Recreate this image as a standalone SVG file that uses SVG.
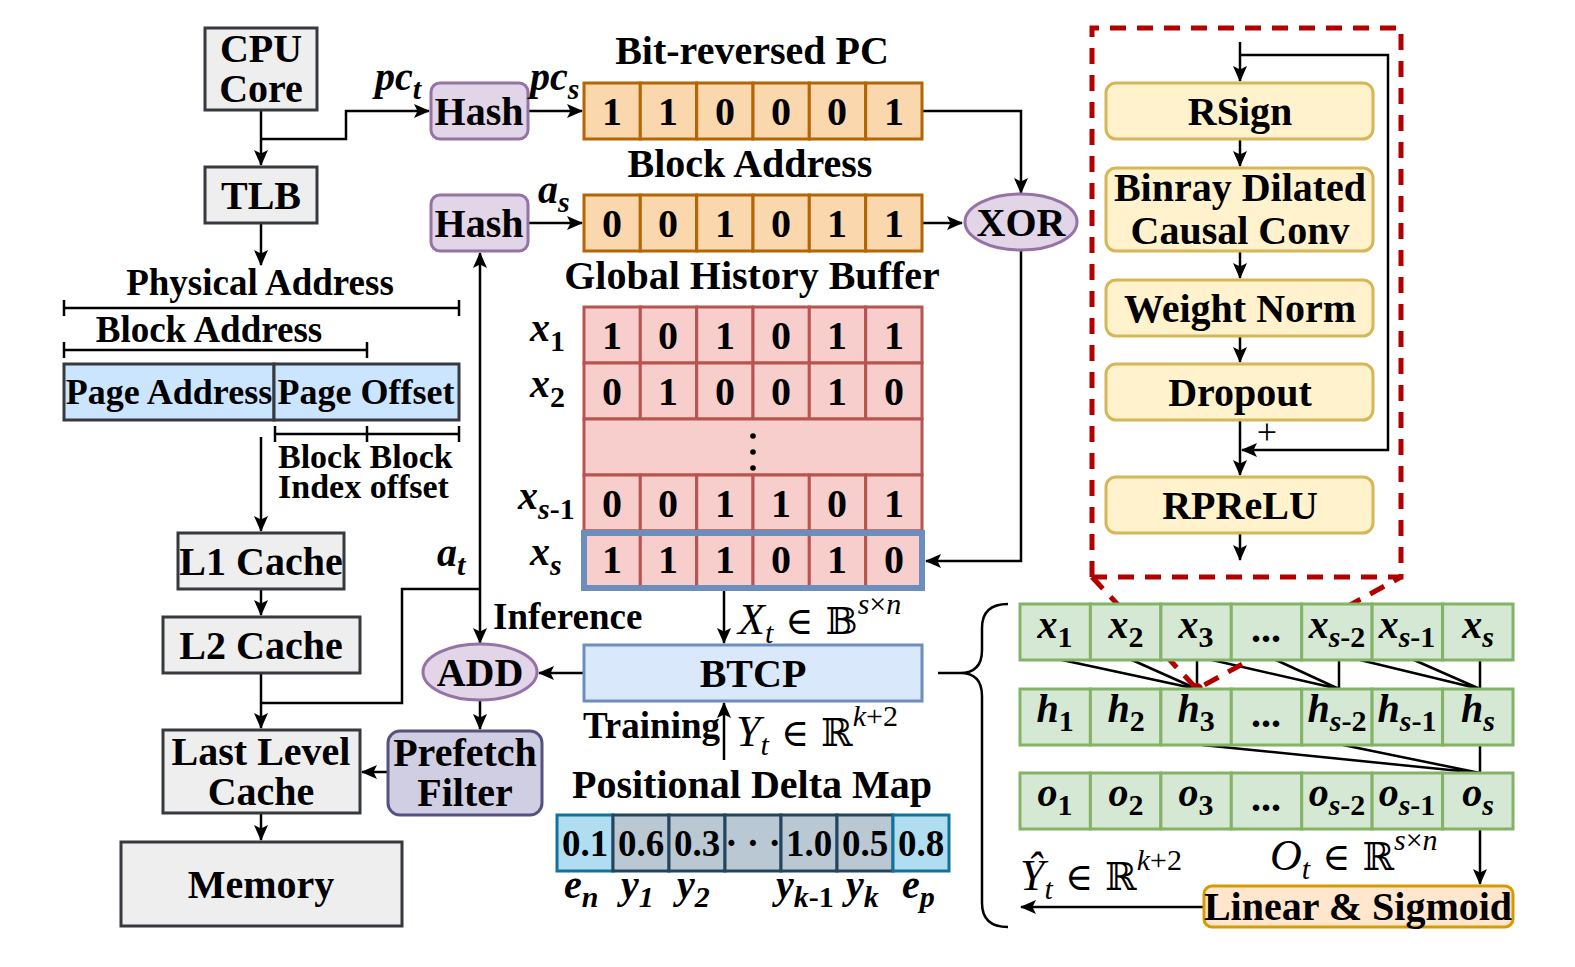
<svg xmlns="http://www.w3.org/2000/svg" width="1575" height="967" viewBox="0 0 1575 967">
<style>
text{font-family:"Liberation Serif","Times New Roman",serif;fill:#000}
.b{font-weight:bold;font-size:40px}
.s37{font-size:37px}
.c{text-anchor:middle;dominant-baseline:central}
.mi{font-style:italic;font-weight:bold;font-size:40px}
.lx{font-style:italic;font-size:44px}
.sub{font-size:30px}
.up{font-style:normal}
.bb{font-style:normal;font-family:"DejaVu Serif","DejaVu Sans",serif;font-size:38px}
.ln{fill:none;stroke:#000;stroke-width:2.5}
.ar{fill:none;stroke:#000;stroke-width:2.5;marker-end:url(#ah)}
.gray{fill:#eeeeee;stroke:#36393d;stroke-width:3}
.blu{fill:#cce5ff;stroke:#36393d;stroke-width:3}
.pur{fill:#e1d5e7;stroke:#9673a6;stroke-width:3}
.org{fill:#fad7ac;stroke:#b46504;stroke-width:3}
.red{fill:#f8cecc;stroke:#b85450;stroke-width:3}
.yel{fill:#fff2cc;stroke:#d6b656;stroke-width:3}
.grn{fill:#d5e8d4;stroke:#82b366;stroke-width:3}
.dl1{fill:#b1ddf0;stroke:#10739e;stroke-width:3}
.dl2{fill:#bac8d3;stroke:#23445d;stroke-width:3}
.dash{fill:none;stroke:#b20000;stroke-width:5;stroke-dasharray:16 11}
</style>
<defs>
<marker id="ah" viewBox="0 0 16 14" refX="15" refY="7" markerWidth="16" markerHeight="14" markerUnits="userSpaceOnUse" orient="auto">
<path d="M0,0 L16,7 L0,14 L3.5,7 z" fill="#000"/>
</marker>
</defs>

<!-- connectors -->
<g id="connectors">
<path class="ar" d="M261,110 V165"/>
<path class="ar" d="M261,139 H346 V111 H429"/>
<path class="ar" d="M528,111 H582"/>
<path class="ar" d="M528,223 H582"/>
<path class="ar" d="M922,111 H1021 V193"/>
<path class="ar" d="M922,223 H962"/>
<path class="ar" d="M1021,250 V561 H926"/>
<path class="ar" d="M261,223 V265"/>
<path class="ar" d="M261,437 V531"/>
<path class="ar" d="M261,589 V615"/>
<path class="ar" d="M261,673 V728"/>
<path class="ln" d="M261,703 H402 V589 H480"/>
<path class="ar" d="M480,589 V253"/>
<path class="ar" d="M480,589 V643"/>
<path class="ar" d="M584,673 H539"/>
<path class="ar" d="M480,700 V729"/>
<path class="ar" d="M388,772 H362"/>
<path class="ar" d="M261,813 V840"/>
<path class="ar" d="M724,589 V643"/>
<path class="ar" d="M724,760 V703"/>
<path class="ln" d="M1008,604 Q982,604 982,628 V650 Q982,673 960,673 H938 M960,673 Q982,673 982,696 V903 Q982,927 1008,927"/>
<path class="ar" d="M1240,42 V81"/>
<path class="ar" d="M1240,55 H1388 V450 H1242"/>
<path class="ar" d="M1240,139 V166"/>
<path class="ar" d="M1240,251 V278"/>
<path class="ar" d="M1240,336 V362"/>
<path class="ar" d="M1240,420 V475"/>
<path class="ar" d="M1240,533 V560"/>
<path class="ln" d="M1062,660 L1197,689 M1132,660 L1197,689 M1197,660 V689"/>
<path class="ln" d="M1212,660 L1339,689 M1276,660 L1339,689 M1339,660 V689"/>
<path class="ln" d="M1360,660 L1480,689 M1414,660 L1480,689 M1480,660 V689"/>
<path class="ln" d="M1202,745 L1480,773 M1343,745 L1480,773 M1480,745 V773"/>
<path class="ar" d="M1480,829 V884"/>
<path class="ar" d="M1204,907 H1021"/>
</g>

<!-- left column -->
<g id="cpu"><rect class="gray" x="205" y="28" width="112" height="82"/>
<text class="b c" x="261" y="48">CPU</text><text class="b c" x="261" y="88">Core</text></g>
<g id="tlb"><rect class="gray" x="205" y="167" width="112" height="56"/><text class="b c" x="261" y="195">TLB</text></g>
<g id="phys">
<text class="b s37" x="260" y="295" text-anchor="middle">Physical Address</text>
<path class="ln" d="M64,308 H459 M64,300 V316 M459,300 V316"/>
<text class="b s37" x="209" y="342" text-anchor="middle">Block Address</text>
<path class="ln" d="M64,350 H367 M64,342 V358 M367,342 V358"/>
<rect class="blu" x="64" y="364" width="210" height="56"/><text class="b c" x="169" y="392" style="font-size:36px">Page Address</text>
<rect class="blu" x="274" y="364" width="185" height="56"/><text class="b c" x="366" y="392" style="font-size:36px">Page Offset</text>
<path class="ln" d="M275,434 H459 M275,426 V442 M367,426 V442 M459,426 V442"/>
<text class="b" x="278" y="468" style="font-size:34px">Block Block</text>
<text class="b" x="278" y="498" style="font-size:34px">Index offset</text>
</g>
<g id="l1"><rect class="gray" x="178" y="533" width="166" height="56"/><text class="b c" x="261" y="561">L1 Cache</text></g>
<g id="l2"><rect class="gray" x="163" y="617" width="197" height="56"/><text class="b c" x="261" y="645">L2 Cache</text></g>
<g id="llc"><rect class="gray" x="163" y="730" width="197" height="83"/>
<text class="b c" x="261" y="751">Last Level</text><text class="b c" x="261" y="791">Cache</text></g>
<g id="memory"><rect class="gray" x="121" y="842" width="281" height="84"/><text class="b c" x="261" y="884">Memory</text></g>

<!-- hashes and arrays -->
<g id="hash1"><rect class="pur" x="431" y="83" width="97" height="56" rx="9"/><text class="b c" x="479" y="111">Hash</text></g>
<g id="hash2"><rect class="pur" x="431" y="195" width="97" height="56" rx="9"/><text class="b c" x="479" y="223">Hash</text></g>
<g id="labels-math">
<text class="mi" x="375" y="90">pc<tspan class="sub" dy="9">t</tspan></text>
<text class="mi" x="530" y="90">pc<tspan class="sub" dy="9">s</tspan></text>
<text class="mi" x="538" y="203">a<tspan class="sub" dy="9">s</tspan></text>
<text class="mi" x="437" y="566">a<tspan class="sub" dy="9">t</tspan></text>
</g>
<g id="bitrev">
<text class="b" x="752" y="64" text-anchor="middle">Bit-reversed PC</text>
<rect class="org" x="584" y="83" width="56.3" height="56"/><rect class="org" x="640.3" y="83" width="56.3" height="56"/><rect class="org" x="696.7" y="83" width="56.3" height="56"/><rect class="org" x="753" y="83" width="56.3" height="56"/><rect class="org" x="809.3" y="83" width="56.3" height="56"/><rect class="org" x="865.7" y="83" width="56.3" height="56"/>
<text class="b c" x="612" y="111">1</text><text class="b c" x="668" y="111">1</text><text class="b c" x="725" y="111">0</text><text class="b c" x="781" y="111">0</text><text class="b c" x="837" y="111">0</text><text class="b c" x="894" y="111">1</text>
</g>
<g id="blockaddr">
<text class="b" x="750" y="177" text-anchor="middle">Block Address</text>
<rect class="org" x="584" y="195" width="56.3" height="56"/><rect class="org" x="640.3" y="195" width="56.3" height="56"/><rect class="org" x="696.7" y="195" width="56.3" height="56"/><rect class="org" x="753" y="195" width="56.3" height="56"/><rect class="org" x="809.3" y="195" width="56.3" height="56"/><rect class="org" x="865.7" y="195" width="56.3" height="56"/>
<text class="b c" x="612" y="223">0</text><text class="b c" x="668" y="223">0</text><text class="b c" x="725" y="223">1</text><text class="b c" x="781" y="223">0</text><text class="b c" x="837" y="223">1</text><text class="b c" x="894" y="223">1</text>
</g>
<g id="xor"><ellipse class="pur" cx="1021" cy="222" rx="56" ry="28"/><text class="b c" x="1021" y="222">XOR</text></g>

<g id="ghb">
<text class="b" x="752" y="289" text-anchor="middle">Global History Buffer</text>
<rect class="red" x="584" y="307" width="56.3" height="56"/><rect class="red" x="640.3" y="307" width="56.3" height="56"/><rect class="red" x="696.7" y="307" width="56.3" height="56"/><rect class="red" x="753" y="307" width="56.3" height="56"/><rect class="red" x="809.3" y="307" width="56.3" height="56"/><rect class="red" x="865.7" y="307" width="56.3" height="56"/>
<rect class="red" x="584" y="363" width="56.3" height="56"/><rect class="red" x="640.3" y="363" width="56.3" height="56"/><rect class="red" x="696.7" y="363" width="56.3" height="56"/><rect class="red" x="753" y="363" width="56.3" height="56"/><rect class="red" x="809.3" y="363" width="56.3" height="56"/><rect class="red" x="865.7" y="363" width="56.3" height="56"/>
<rect class="red" x="584" y="419" width="338" height="56"/>
<rect class="red" x="584" y="475" width="56.3" height="56"/><rect class="red" x="640.3" y="475" width="56.3" height="56"/><rect class="red" x="696.7" y="475" width="56.3" height="56"/><rect class="red" x="753" y="475" width="56.3" height="56"/><rect class="red" x="809.3" y="475" width="56.3" height="56"/><rect class="red" x="865.7" y="475" width="56.3" height="56"/>
<rect class="red" x="584" y="531" width="56.3" height="56"/><rect class="red" x="640.3" y="531" width="56.3" height="56"/><rect class="red" x="696.7" y="531" width="56.3" height="56"/><rect class="red" x="753" y="531" width="56.3" height="56"/><rect class="red" x="809.3" y="531" width="56.3" height="56"/><rect class="red" x="865.7" y="531" width="56.3" height="56"/>
<rect x="584" y="533" width="338" height="55" fill="none" stroke="#6c8ebf" stroke-width="6"/>
<text class="b c" x="612" y="335">1</text><text class="b c" x="668" y="335">0</text><text class="b c" x="725" y="335">1</text><text class="b c" x="781" y="335">0</text><text class="b c" x="837" y="335">1</text><text class="b c" x="894" y="335">1</text>
<text class="b c" x="612" y="391">0</text><text class="b c" x="668" y="391">1</text><text class="b c" x="725" y="391">0</text><text class="b c" x="781" y="391">0</text><text class="b c" x="837" y="391">1</text><text class="b c" x="894" y="391">0</text>
<circle cx="753" cy="436" r="2.8"/><circle cx="753" cy="452" r="2.8"/><circle cx="753" cy="468" r="2.8"/>
<text class="b c" x="612" y="503">0</text><text class="b c" x="668" y="503">0</text><text class="b c" x="725" y="503">1</text><text class="b c" x="781" y="503">1</text><text class="b c" x="837" y="503">0</text><text class="b c" x="894" y="503">1</text>
<text class="b c" x="612" y="559">1</text><text class="b c" x="668" y="559">1</text><text class="b c" x="725" y="559">1</text><text class="b c" x="781" y="559">0</text><text class="b c" x="837" y="559">1</text><text class="b c" x="894" y="559">0</text>
<text class="mi" x="530" y="341">x<tspan class="sub up" dy="10">1</tspan></text>
<text class="mi" x="530" y="397">x<tspan class="sub up" dy="10">2</tspan></text>
<text class="mi" x="518" y="509">x<tspan class="sub" dy="10">s</tspan><tspan class="sub up">-1</tspan></text>
<text class="mi" x="530" y="565">x<tspan class="sub" dy="10">s</tspan></text>
</g>

<g id="add"><ellipse class="pur" cx="480" cy="672" rx="57" ry="28"/><text class="b c" x="480" y="672">ADD</text></g>
<g id="btcp"><rect x="584" y="645" width="338" height="56" fill="#dae8fc" stroke="#6c8ebf" stroke-width="3"/><text class="b c" x="753" y="673">BTCP</text></g>
<g id="prefetch"><rect x="388" y="731" width="154" height="84" rx="12" fill="#d0cee2" stroke="#56517e" stroke-width="3"/>
<text class="b c" x="465" y="752">Prefetch</text><text class="b c" x="465" y="792">Filter</text></g>
<text class="b s37" x="493" y="629">Inference</text>
<text class="b s37" x="720" y="738" text-anchor="end">Training</text>
<text class="lx" x="738" y="634">X<tspan class="sub" dy="9">t</tspan><tspan class="bb" dy="-9"> ∈ 𝔹</tspan><tspan class="sub" dy="-20">s</tspan><tspan class="sub up">×</tspan><tspan class="sub">n</tspan></text>
<text class="lx" x="736" y="746">Y<tspan class="sub" dy="9">t</tspan><tspan class="bb" dy="-9"> ∈ ℝ</tspan><tspan class="sub" dy="-20">k</tspan><tspan class="sub up">+2</tspan></text>

<g id="pdm">
<text class="b" x="752" y="798" text-anchor="middle">Positional Delta Map</text>
<rect class="dl1" x="557" y="815" width="56" height="56"/>
<rect class="dl2" x="613" y="815" width="56" height="56"/><rect class="dl2" x="669" y="815" width="56" height="56"/><rect class="dl2" x="725" y="815" width="56" height="56"/><rect class="dl2" x="781" y="815" width="56" height="56"/><rect class="dl2" x="837" y="815" width="56" height="56"/>
<rect class="dl1" x="893" y="815" width="56" height="56"/>
<g style="font-size:37px">
<text class="b c s37" x="585" y="843">0.1</text><text class="b c s37" x="641" y="843">0.6</text><text class="b c s37" x="697" y="843">0.3</text><text class="b c s37" x="753" y="843">· · ·</text><text class="b c s37" x="809" y="843">1.0</text><text class="b c s37" x="865" y="843">0.5</text><text class="b c s37" x="921" y="843">0.8</text>
</g>
<text class="mi" x="564" y="898">e<tspan class="sub" dy="9">n</tspan></text>
<text class="mi" x="621" y="898">y<tspan class="sub" dy="9">1</tspan></text>
<text class="mi" x="677" y="898">y<tspan class="sub" dy="9">2</tspan></text>
<text class="mi" x="776" y="898">y<tspan class="sub" dy="9">k</tspan><tspan class="sub up">-1</tspan></text>
<text class="mi" x="846" y="898">y<tspan class="sub" dy="9">k</tspan></text>
<text class="mi" x="902" y="898">e<tspan class="sub" dy="9">p</tspan></text>
</g>

<!-- BTCP block detail -->
<g id="tcn-block">
<path class="dash" d="M1092,577 V28 H1401 V577 H1092 M1092,577 L1197,689 L1401,577"/>
<circle cx="1197" cy="689" r="6" fill="#b20000"/>
<rect class="yel" x="1106" y="83" width="267" height="56" rx="10"/><text class="b c" x="1240" y="111">RSign</text>
<rect class="yel" x="1106" y="168" width="267" height="83" rx="10"/><text class="b c" x="1240" y="187">Binray Dilated</text><text class="b c" x="1240" y="230">Causal Conv</text>
<rect class="yel" x="1106" y="280" width="267" height="56" rx="10"/><text class="b c" x="1240" y="308">Weight Norm</text>
<rect class="yel" x="1106" y="364" width="267" height="56" rx="10"/><text class="b c" x="1240" y="392">Dropout</text>
<rect class="yel" x="1106" y="477" width="267" height="56" rx="10"/><text class="b c" x="1240" y="505">RPReLU</text>
<text x="1267" y="444" text-anchor="middle" style="font-size:36px">+</text>
</g>

<g id="tcn-grid">
<rect class="grn" x="1020" y="604" width="70.4" height="56"/><rect class="grn" x="1090.4" y="604" width="70.4" height="56"/><rect class="grn" x="1160.9" y="604" width="70.4" height="56"/><rect class="grn" x="1231.3" y="604" width="70.4" height="56"/><rect class="grn" x="1301.7" y="604" width="70.4" height="56"/><rect class="grn" x="1372.1" y="604" width="70.4" height="56"/><rect class="grn" x="1442.6" y="604" width="70.4" height="56"/>
<rect class="grn" x="1020" y="689" width="70.4" height="56"/><rect class="grn" x="1090.4" y="689" width="70.4" height="56"/><rect class="grn" x="1160.9" y="689" width="70.4" height="56"/><rect class="grn" x="1231.3" y="689" width="70.4" height="56"/><rect class="grn" x="1301.7" y="689" width="70.4" height="56"/><rect class="grn" x="1372.1" y="689" width="70.4" height="56"/><rect class="grn" x="1442.6" y="689" width="70.4" height="56"/>
<rect class="grn" x="1020" y="773" width="70.4" height="56"/><rect class="grn" x="1090.4" y="773" width="70.4" height="56"/><rect class="grn" x="1160.9" y="773" width="70.4" height="56"/><rect class="grn" x="1231.3" y="773" width="70.4" height="56"/><rect class="grn" x="1301.7" y="773" width="70.4" height="56"/><rect class="grn" x="1372.1" y="773" width="70.4" height="56"/><rect class="grn" x="1442.6" y="773" width="70.4" height="56"/>
<text class="mi" x="1055" y="638" text-anchor="middle">x<tspan class="sub up" dy="9">1</tspan></text>
<text class="mi" x="1126" y="638" text-anchor="middle">x<tspan class="sub up" dy="9">2</tspan></text>
<text class="mi" x="1196" y="638" text-anchor="middle">x<tspan class="sub up" dy="9">3</tspan></text>
<text class="b" x="1266" y="642" text-anchor="middle">...</text>
<text class="mi" x="1337" y="638" text-anchor="middle">x<tspan class="sub" dy="9">s</tspan><tspan class="sub up">-2</tspan></text>
<text class="mi" x="1407" y="638" text-anchor="middle">x<tspan class="sub" dy="9">s</tspan><tspan class="sub up">-1</tspan></text>
<text class="mi" x="1478" y="638" text-anchor="middle">x<tspan class="sub" dy="9">s</tspan></text>
<text class="mi" x="1055" y="722" text-anchor="middle">h<tspan class="sub up" dy="9">1</tspan></text>
<text class="mi" x="1126" y="722" text-anchor="middle">h<tspan class="sub up" dy="9">2</tspan></text>
<text class="mi" x="1196" y="722" text-anchor="middle">h<tspan class="sub up" dy="9">3</tspan></text>
<text class="b" x="1266" y="727" text-anchor="middle">...</text>
<text class="mi" x="1337" y="722" text-anchor="middle">h<tspan class="sub" dy="9">s</tspan><tspan class="sub up">-2</tspan></text>
<text class="mi" x="1407" y="722" text-anchor="middle">h<tspan class="sub" dy="9">s</tspan><tspan class="sub up">-1</tspan></text>
<text class="mi" x="1478" y="722" text-anchor="middle">h<tspan class="sub" dy="9">s</tspan></text>
<text class="mi" x="1055" y="806" text-anchor="middle">o<tspan class="sub up" dy="9">1</tspan></text>
<text class="mi" x="1126" y="806" text-anchor="middle">o<tspan class="sub up" dy="9">2</tspan></text>
<text class="mi" x="1196" y="806" text-anchor="middle">o<tspan class="sub up" dy="9">3</tspan></text>
<text class="b" x="1266" y="811" text-anchor="middle">...</text>
<text class="mi" x="1337" y="806" text-anchor="middle">o<tspan class="sub" dy="9">s</tspan><tspan class="sub up">-2</tspan></text>
<text class="mi" x="1407" y="806" text-anchor="middle">o<tspan class="sub" dy="9">s</tspan><tspan class="sub up">-1</tspan></text>
<text class="mi" x="1478" y="806" text-anchor="middle">o<tspan class="sub" dy="9">s</tspan></text>
</g>
<text class="lx" x="1270" y="870">O<tspan class="sub" dy="9">t</tspan><tspan class="bb" dy="-9"> ∈ ℝ</tspan><tspan class="sub" dy="-20">s</tspan><tspan class="sub up">×</tspan><tspan class="sub">n</tspan></text>
<text class="lx" x="1020" y="890">Ŷ<tspan class="sub" dy="9">t</tspan><tspan class="bb" dy="-9"> ∈ ℝ</tspan><tspan class="sub" dy="-20">k</tspan><tspan class="sub up">+2</tspan></text>
<g id="linsig"><rect x="1204" y="886" width="309" height="41" rx="8" fill="#ffe6cc" stroke="#d79b00" stroke-width="3"/><text class="b c" x="1358" y="906">Linear &amp; Sigmoid</text></g>
</svg>
